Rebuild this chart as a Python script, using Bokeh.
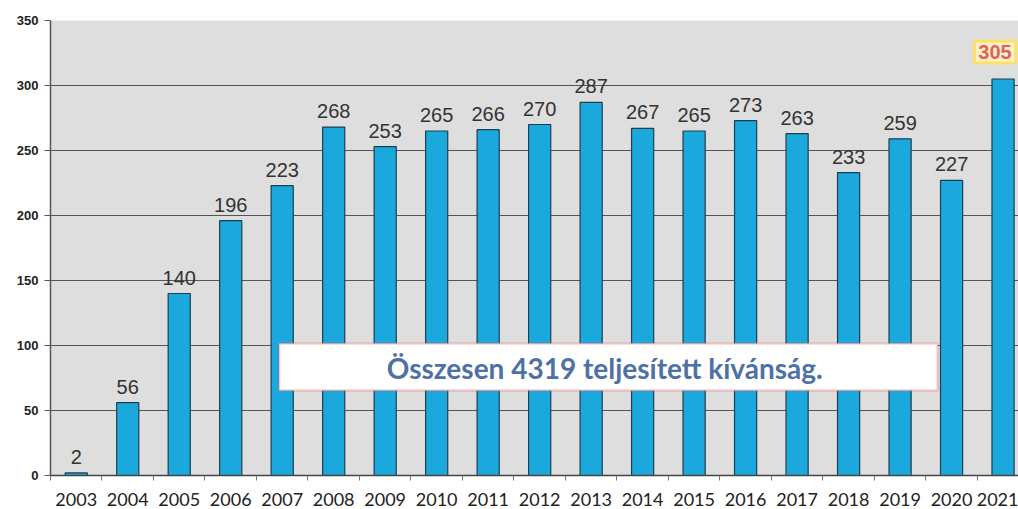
from bokeh.plotting import figure
from bokeh.models import ColumnDataSource, FixedTicker, Range1d, BoxAnnotation, Label
from bokeh.core.properties import value
from bokeh.embed import file_html
from bokeh.resources import INLINE

years = ["2003", "2004", "2005", "2006", "2007", "2008", "2009", "2010", "2011", "2012",
         "2013", "2014", "2015", "2016", "2017", "2018", "2019", "2020", "2021"]
counts = [2, 56, 140, 196, 223, 268, 253, 265, 266, 270,
          287, 267, 265, 273, 263, 233, 259, 227, 305]
y_ticks = [0, 50, 100, 150, 200, 250, 300, 350]
total_text = "Összesen  4319 teljesített kívánság."

idx = list(range(len(years)))
src = ColumnDataSource(dict(x=idx[:-1], top=counts[:-1], lbl=[str(c) for c in counts[:-1]]))
src_last = ColumnDataSource(dict(x=idx[-1:], top=counts[-1:], lbl=[str(c) for c in counts[-1:]]))

p = figure(width=1018, height=509, output_backend="svg", toolbar_location=None,
           x_range=Range1d(-0.5, 18.3), y_range=Range1d(0, 350),
           min_border_left=50, min_border_right=0, min_border_top=20, min_border_bottom=34)
p.background_fill_color = "#dedede"
p.border_fill_color = "white"
p.outline_line_color = None

for s in (src, src_last):
    p.vbar(x="x", top="top", width=0.43, source=s, fill_color="#1ba8dc",
           line_color="#1d3f50", line_width=1.2)

p.text(x="x", y="top", text="lbl", source=src, text_align="center", text_baseline="bottom",
       y_offset=-9, text_font=value("Liberation Sans"), text_font_size="20px",
       text_color="#333333")
p.text(x="x", y="top", text="lbl", source=src_last, text_align="center", text_baseline="bottom",
       x_offset=-8, y_offset=-16, text_font=value("Liberation Sans"), text_font_size="20px",
       text_font_style="bold", text_color="#e06060",
       background_fill_color="#fff3c4", border_line_color="#ffe066", border_line_width=3,
       padding=4)

# x axis
p.xaxis.ticker = FixedTicker(ticks=idx, minor_ticks=[i - 0.5 for i in idx])
p.xaxis.major_label_overrides = {i: y for i, y in zip(idx, years)}
p.xaxis.major_tick_out = 0
p.xaxis.major_tick_in = 0
p.xaxis.minor_tick_out = 5
p.xaxis.minor_tick_in = 0
p.xaxis.minor_tick_line_color = "#777777"
p.xaxis.axis_line_color = "#444444"
p.xaxis.axis_line_width = 1.5
p.xaxis.major_label_standoff = 12
p.xaxis.major_label_text_font = "Lato"
p.xaxis.major_label_text_font_size = "18px"
p.xaxis.major_label_text_color = "#222222"

# y axis
p.yaxis.ticker = FixedTicker(ticks=y_ticks)
p.yaxis.major_tick_out = 6
p.yaxis.major_tick_in = 0
p.yaxis.minor_tick_out = 0
p.yaxis.minor_tick_in = 0
p.yaxis.major_tick_line_color = "#555555"
p.yaxis.axis_line_color = "#555555"
p.yaxis.axis_line_width = 1.5
p.yaxis.major_label_standoff = 6
p.yaxis.major_label_text_font = "Liberation Sans"
p.yaxis.major_label_text_font_style = "bold"
p.yaxis.major_label_text_font_size = "13px"
p.yaxis.major_label_text_color = "#222222"

p.xgrid.grid_line_color = None
p.ygrid.ticker = FixedTicker(ticks=y_ticks)
p.ygrid.grid_line_color = "#555555"
p.ygrid.grid_line_width = 1.2

# summary box
box = BoxAnnotation(left=3.94, right=16.73, top=101.5, bottom=65.4,
                    fill_color="white", fill_alpha=1.0,
                    line_color="#e06464", line_width=2.5)
p.add_layout(box)
lbl = Label(x=10.33, y=83, text=total_text,
            text_align="center", text_baseline="middle", text_font="Lato",
            text_font_style="bold", text_font_size="28px", text_color="#4d71a6")
p.add_layout(lbl)

open("out.html", "w").write(file_html(p, INLINE))
